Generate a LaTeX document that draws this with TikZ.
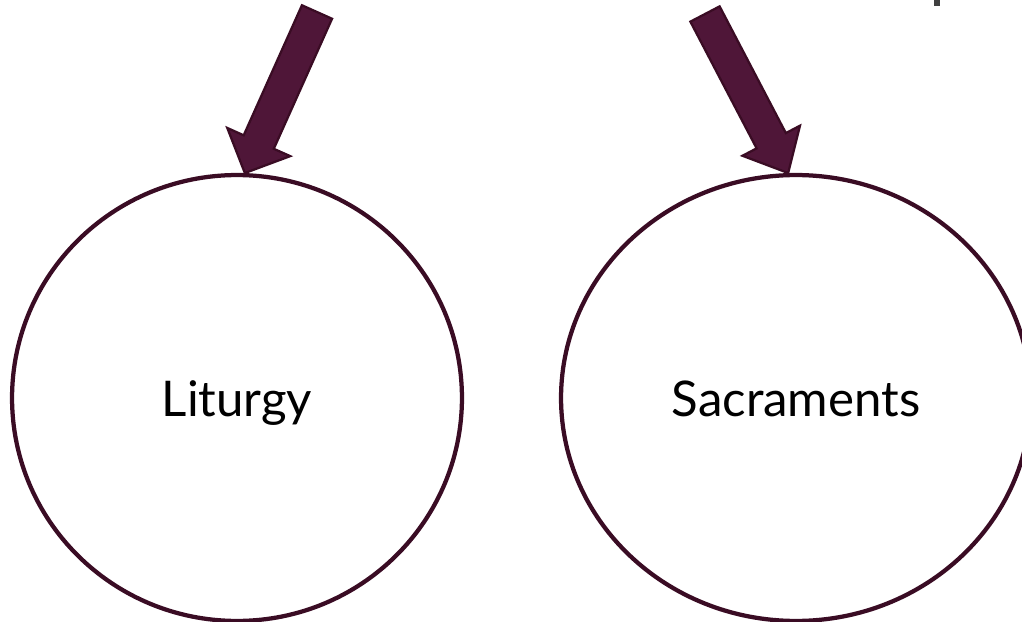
\documentclass[tikz,border=0pt]{standalone}
\usepackage{fontspec}
\setmainfont{Lato}
\usetikzlibrary{calc,shapes.geometric}
\definecolor{plum}{HTML}{4F1638}
\definecolor{plumdark}{HTML}{3A0C24}
\begin{document}
\begin{tikzpicture}[x=0.02cm,y=-0.02cm,
  ring/.style={draw=plumdark, line width=0.085cm, ellipse, minimum height=8.92cm, inner sep=0pt},
  word/.style={anchor=base, font=\fontsize{28}{32}\selectfont},
  fatarrow/.style={fill=plum, draw=plumdark, line width=0.045cm, line join=miter}]
\useasboundingbox (0,0) rectangle (1022,622);

\node[ring, minimum width=9cm] (lit) at (237,398) {};
\node[ring, minimum width=9.4cm] (sac) at (796,398) {};
\node[word] (littext) at (237,416) {Liturgy};
\node[word] (sactext) at (796,416) {Sacraments};

\coordinate (ltail) at (317,12);
\coordinate (rtail) at (705,14);
\coordinate (ltip) at (lit.88.7);
\coordinate (rtip) at (sac.92);

% left arrow
\coordinate (lhead) at ($(ltip)!0.68cm!(ltail)$);
\draw[fatarrow] ($(ltail)!0.33cm!-90:(ltip)$) -- ($(lhead)!0.33cm!-90:(ltip)$)
  -- ($(lhead)!0.69cm!-90:(ltip)$) -- (ltip) -- ($(lhead)!0.69cm!90:(ltip)$)
  -- ($(lhead)!0.33cm!90:(ltip)$) -- ($(ltail)!0.33cm!90:(ltip)$) -- cycle;

% right arrow
\coordinate (rhead) at ($(rtip)!0.73cm!(rtail)$);
\draw[fatarrow] ($(rtail)!0.33cm!-90:(rtip)$) -- ($(rhead)!0.33cm!-90:(rtip)$)
  -- ($(rhead)!0.65cm!-90:(rtip)$) -- (rtip) -- ($(rhead)!0.65cm!90:(rtip)$)
  -- ($(rhead)!0.33cm!90:(rtip)$) -- ($(rtail)!0.33cm!90:(rtip)$) -- cycle;

% cut-off glyph at the top edge
\fill[black!75] (934,0) rectangle (940,6);
\end{tikzpicture}
\end{document}
